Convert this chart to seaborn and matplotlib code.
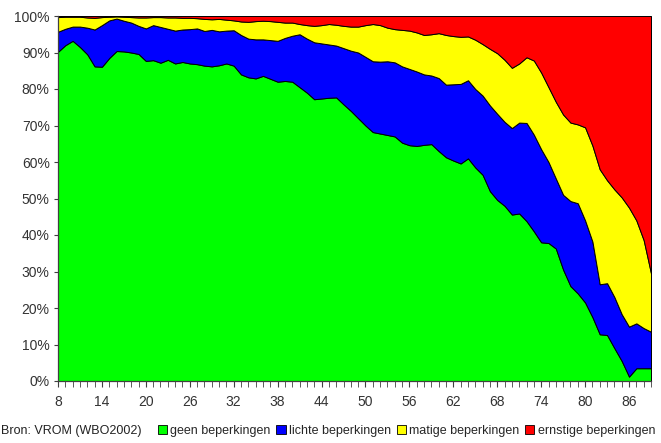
import matplotlib
matplotlib.use('Agg')
import matplotlib.pyplot as plt
import seaborn as sns
import numpy as np
from matplotlib.ticker import MultipleLocator, FuncFormatter
from matplotlib.patches import Patch

# leeftijd 8 t/m 89
ages = list(range(8, 90))

geen = [90.2, 92.0, 93.2, 91.5, 89.5, 86.2, 86.1, 88.5, 90.4, 90.3,
        90.0, 89.6, 87.7, 87.9, 87.2, 88.0, 87.0, 87.4, 87.0, 86.8,
        86.4, 86.2, 86.5, 87.0, 86.4, 84.0, 83.2, 82.9, 83.6, 82.8,
        82.0, 82.2, 82.0, 80.5, 79.0, 77.2, 77.4, 77.6, 77.7, 75.8,
        74.0, 72.0, 70.0, 68.2, 67.8, 67.4, 67.0, 65.3, 64.6, 64.4,
        64.7, 64.9, 63.0, 61.3, 60.4, 59.6, 61.0, 58.5, 56.5, 52.0,
        49.6, 48.0, 45.6, 45.9, 43.8, 41.0, 38.0, 37.8, 36.3, 30.5,
        26.0, 24.0, 21.5, 17.5, 12.8, 12.6, 9.0, 5.5, 1.2, 3.5,
        3.5, 3.5]
lichte = [5.5, 4.5, 3.9, 5.6, 7.3, 10.1, 11.4, 10.3, 8.9, 8.4,
          8.2, 7.7, 8.9, 9.6, 9.8, 8.5, 9.0, 8.9, 9.4, 9.8,
          9.5, 10.0, 9.3, 9.0, 9.7, 10.8, 10.6, 10.7, 10.0, 10.6,
          11.2, 11.8, 12.6, 14.5, 14.8, 15.6, 15.1, 14.6, 14.2, 15.4,
          16.5, 18.0, 18.8, 19.4, 19.7, 20.2, 20.3, 20.9, 20.9, 20.4,
          19.3, 18.8, 20.0, 19.9, 20.9, 21.8, 21.4, 21.5, 21.7, 23.5,
          23.6, 23.0, 23.7, 24.9, 26.9, 26.5, 25.5, 22.2, 19.2, 20.5,
          23.3, 24.7, 22.5, 20.7, 13.7, 14.2, 14.0, 12.8, 13.7, 12.3,
          11.0, 10.0]
matige = [4.0, 3.3, 2.7, 2.7, 2.8, 3.2, 2.2, 1.0, 0.6, 1.1,
          1.5, 2.3, 3.0, 2.2, 2.7, 3.1, 3.6, 3.2, 3.1, 2.8,
          3.3, 2.9, 3.4, 3.0, 2.7, 3.7, 4.6, 5.0, 5.1, 5.2,
          5.2, 4.2, 3.6, 2.8, 3.7, 4.5, 5.0, 5.6, 5.7, 6.1,
          6.6, 7.1, 8.7, 10.2, 10.0, 9.2, 9.1, 10.0, 10.5, 10.7,
          10.8, 11.3, 12.3, 13.6, 13.2, 12.9, 12.0, 13.5, 14.1, 15.5,
          16.6, 17.0, 16.5, 16.2, 18.0, 20.3, 21.0, 20.5, 21.0, 22.0,
          21.5, 21.6, 25.5, 26.3, 31.5, 28.2, 29.5, 32.0, 32.6, 28.2,
          24.1, 16.0]
ernstige = [0.3, 0.2, 0.2, 0.2, 0.4, 0.5, 0.3, 0.2, 0.1, 0.2,
            0.3, 0.4, 0.4, 0.3, 0.3, 0.4, 0.4, 0.5, 0.5, 0.6,
            0.8, 0.9, 0.8, 1.0, 1.2, 1.5, 1.6, 1.4, 1.3, 1.4,
            1.6, 1.8, 1.8, 2.2, 2.5, 2.7, 2.5, 2.2, 2.4, 2.7,
            2.9, 2.9, 2.5, 2.2, 2.5, 3.2, 3.6, 3.8, 4.0, 4.5,
            5.2, 5.0, 4.7, 5.2, 5.5, 5.7, 5.6, 6.5, 7.7, 9.0,
            10.2, 12.0, 14.2, 13.0, 11.3, 12.2, 15.5, 19.5, 23.5, 27.0,
            29.2, 29.7, 30.5, 35.5, 42.0, 45.0, 47.5, 49.7, 52.5, 56.0,
            61.4, 70.5]

labels = ['geen beperkingen', 'lichte beperkingen',
          'matige beperkingen', 'ernstige beperkingen']
colors = ['#00FF00', '#0000FF', '#FFFF00', '#FF0000']

sns.set_style('white')
plt.rcParams['font.family'] = ['Liberation Sans', 'DejaVu Sans']

fig = plt.figure(figsize=(6.61, 4.43), dpi=100)
ax = fig.add_axes([58 / 661, 1 - 381 / 443, 593 / 661, 365 / 443])

ax.stackplot(ages, geen, lichte, matige, ernstige, colors=colors,
             edgecolor='black', linewidth=0.7)

ax.set_xlim(8, 89)
ax.set_ylim(0, 100)
ax.set_xticks(list(range(8, 90, 6)))
ax.xaxis.set_minor_locator(MultipleLocator(1))
ax.yaxis.set_major_locator(MultipleLocator(10))
ax.yaxis.set_major_formatter(FuncFormatter(lambda v, p: '{:.0f}%'.format(v)))

for s in ['top', 'right']:
    ax.spines[s].set_visible(False)
for s in ['left', 'bottom']:
    ax.spines[s].set_color('#404040')
    ax.spines[s].set_linewidth(0.9)

ax.tick_params(axis='both', which='both', direction='out', color='#404040',
               labelsize=10, labelcolor='#333333')
ax.tick_params(axis='x', which='both', length=4, pad=6, bottom=True)
ax.tick_params(axis='y', length=3, pad=3, left=True)
ax.grid(False)

fig.text(0.002, 0.027, 'Bron: VROM (WBO2002)', fontsize=9, color='#222222',
         va='center', ha='left')

handles = [Patch(facecolor=c, edgecolor='black', linewidth=0.6) for c in colors]
fig.legend(handles, labels, loc='center', bbox_to_anchor=(0.615, 0.027),
           ncol=4, frameon=False, fontsize=9, handlelength=0.75,
           handleheight=0.75, handletextpad=0.25, columnspacing=0.45,
           borderaxespad=0, borderpad=0)

fig.savefig('out.png', dpi=100)
